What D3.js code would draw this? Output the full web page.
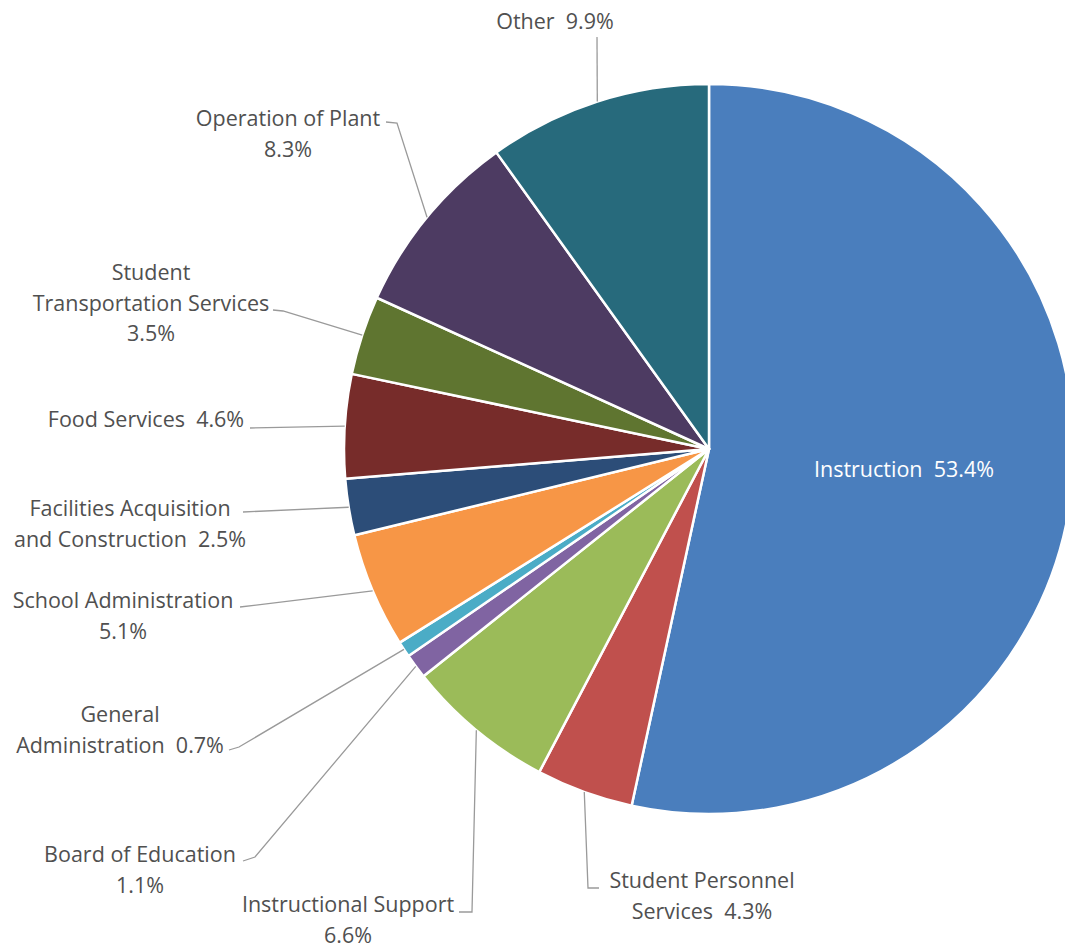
<!DOCTYPE html>
<html>
<head>
<meta charset="utf-8">
<script src="https://cdn.jsdelivr.net/npm/d3@7"></script>
<style>
  html, body { margin: 0; padding: 0; background: #ffffff; }
  svg { display: block; }
  text { font-family: "Open Sans", "Noto Sans", sans-serif; white-space: pre; }
</style>
</head>
<body>
<svg id="chart" width="1065" height="948"></svg>
<script>
// ---- data ----
const categories = [
  "Instruction", "Student Personnel Services", "Instructional Support",
  "Board of Education", "General Administration", "School Administration",
  "Facilities Acquisition and Construction", "Food Services",
  "Student Transportation Services", "Operation of Plant", "Other"
];
const values = [53.4, 4.3, 6.6, 1.1, 0.7, 5.1, 2.5, 4.6, 3.5, 8.3, 9.9];
// label text templates ({v} = value)
const labelTemplates = [
  "Instruction  {v}",
  "Student Personnel\nServices  {v}",
  "Instructional Support\n{v}",
  "Board of Education\n{v}",
  "General\nAdministration  {v}",
  "School Administration\n{v}",
  "Facilities Acquisition\nand Construction  {v}",
  "Food Services  {v}",
  "Student\nTransportation Services\n{v}",
  "Operation of Plant\n{v}",
  "Other  {v}"
];

// ---- styles / layout ----
const colors = ["#4a7ebd", "#c0504d", "#9bbb59", "#8064a2", "#4bacc6", "#f79646",
                "#2c4d78", "#772c2a", "#5f7530", "#4d3b62", "#276a7c"];
const cx = 709, cy = 449, R = 365;
const fontSize = 21.5, lineH = 30.5;
// label anchor: center x, first baseline y; leader: points from text toward slice
const labelLayout = [
  { x: 904, y: 477, leader: null, inside: true },
  { x: 702, y: 888, leader: [[599, 888], [588, 888]] },
  { x: 348, y: 912, leader: [[459, 912], [472, 912]] },
  { x: 140, y: 862, leader: [[243, 861], [255, 857]] },
  { x: 120, y: 722, leader: [[229, 750], [239, 747]] },
  { x: 123, y: 608, leader: [[240, 607]] },
  { x: 130, y: 516, leader: [[243, 512]] },
  { x: 146, y: 427, leader: [[250, 428]] },
  { x: 151, y: 280, leader: [[273, 310], [283, 311]] },
  { x: 288, y: 126, leader: [[386, 122], [397, 123]] },
  { x: 555, y: 29, leader: [[597, 37]] }
];

const data = categories.map((c, i) => ({ name: c, value: values[i], idx: i }));
const svg = d3.select("#chart");
const g = svg.append("g").attr("transform", `translate(${cx},${cy})`);

const pie = d3.pie().sort(null).value(d => d.value);
const arc = d3.arc().innerRadius(0).outerRadius(R);
const edgeArc = d3.arc().innerRadius(R).outerRadius(R);
const arcs = pie(data);

g.selectAll("path.slice").data(arcs).enter().append("path")
  .attr("class", "slice")
  .attr("d", arc)
  .attr("fill", d => colors[d.data.idx])
  .attr("stroke", "#ffffff")
  .attr("stroke-width", 2.5)
  .attr("stroke-linejoin", "round");

// leader lines
const line = d3.line();
arcs.forEach(d => {
  const L = labelLayout[d.data.idx];
  if (!L.leader) return;
  const p = edgeArc.centroid(d);
  const pts = L.leader.concat([[p[0] + cx, p[1] + cy]]);
  svg.append("path")
    .attr("d", line(pts))
    .attr("fill", "none")
    .attr("stroke", "#9a9a9a")
    .attr("stroke-width", 1.3);
});

// labels
arcs.forEach(d => {
  const i = d.data.idx;
  const L = labelLayout[i];
  const txt = labelTemplates[i].replace("{v}", d3.format(".1f")(d.data.value) + "%");
  const lines = txt.split("\n");
  const t = svg.append("text")
    .attr("x", L.x).attr("y", L.y)
    .attr("text-anchor", "middle")
    .attr("font-size", fontSize)
    .attr("fill", L.inside ? "#ffffff" : "#505050");
  lines.forEach((ln, k) => {
    t.append("tspan").attr("x", L.x).attr("y", L.y + k * lineH).text(ln);
  });
});
</script>
</body>
</html>
